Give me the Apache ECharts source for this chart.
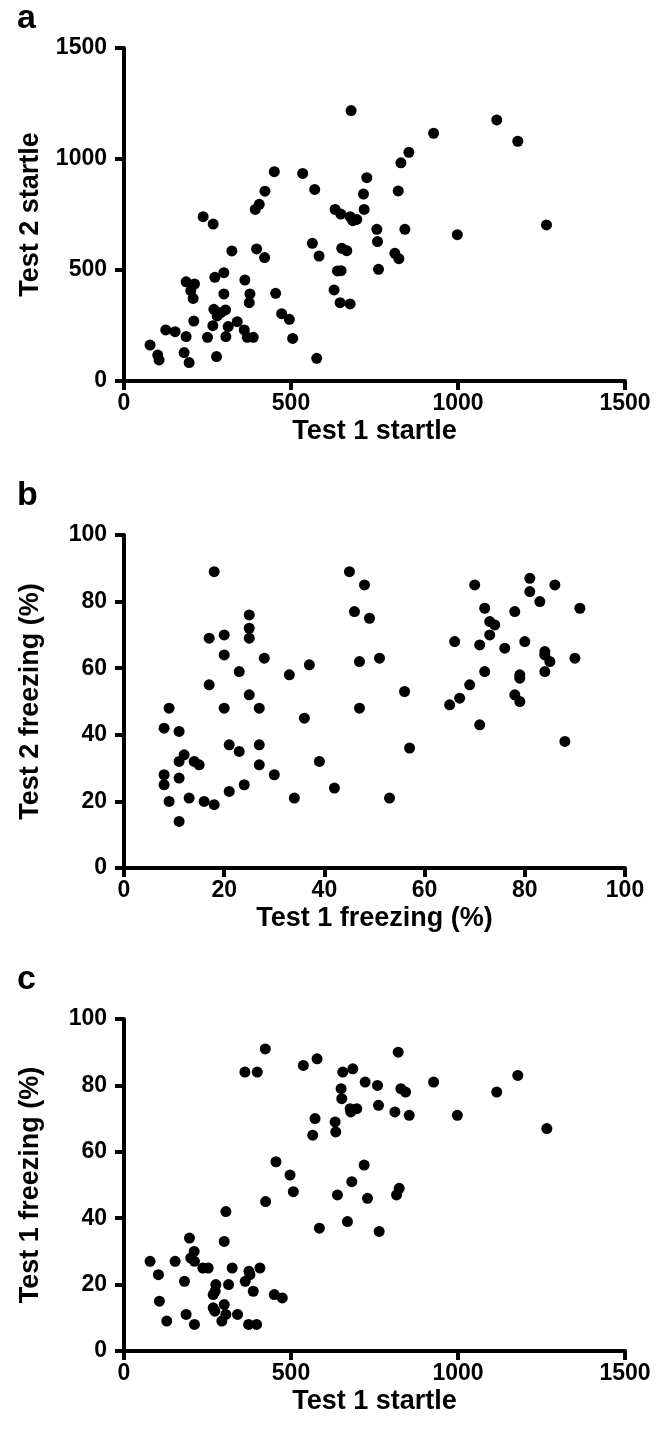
<!DOCTYPE html>
<html>
<head>
<meta charset="utf-8">
<style>
html,body{margin:0;padding:0;background:#fff;}
#chart{width:665px;height:1437px;}
</style>
<script src="https://cdn.jsdelivr.net/npm/echarts@6/dist/echarts.min.js"></script>
</head>
<body>
<div id="chart"></div>
<script>
// Panel a: Test 1 startle (x) vs Test 2 startle (y)
const aX = [78,101,105,125,153,186,180,195,237,267,186,211,200,207,209,250,277,266,269,279,290,304,312,305,272,299,299,323,339,360,369,387,375,377,362,393,405,422,450,397,421,454,472,495,505,535,571,577,564,584,629,647,677,639,650,652,667,632,649,680,677,685,697,719,717,727,757,759,762,811,823,841,821,829,853,927,998,1116,1179,1265];
const aY = [162,117,95,230,222,200,128,83,740,707,447,437,407,372,270,197,110,249,323,293,308,320,245,200,467,488,392,586,267,230,197,197,353,392,455,773,796,855,943,595,556,395,303,278,192,935,863,102,620,563,410,353,347,496,497,598,587,773,752,1218,740,722,728,773,842,916,683,628,503,575,551,683,856,983,1030,1116,659,1176,1080,703];
// Panel b: Test 1 freezing (x) vs Test 2 freezing (y)
const bX = [18,17,20,20,25,25,25,28,23,17,25,20,27,33,37,36,39,42,34,30,27,27,21,23,24,21,18,16,15,14,13,12,11,11,11,11,9,8,8,8,9,45,48,46,49,47,47,51,56,57,53,70,72,73,74,73,71,66,76,78,81,81,83,86,91,80,84,84,85,90,84,79,79,78,79,72,69,67,65,71,88];
const bY = [89,69,70,64,76,72,69,63,59,55,52,48,48,58,61,45,32,24,21,28,31,37,37,35,25,23,19,20,31,32,21,34,32,41,27,14,48,42,28,25,20,89,85,77,75,62,48,63,53,36,21,85,78,74,73,70,67,68,66,77,87,83,80,85,78,68,65,64,62,63,59,58,57,52,50,59,55,51,49,43,38];
// Panel c: Test 1 startle (x) vs Test 1 freezing (y)
const cX = [78,103,106,128,153,181,186,211,196,210,200,211,236,252,275,267,273,267,272,293,300,305,313,324,300,305,340,363,374,377,387,407,373,397,450,474,424,455,497,507,362,399,423,537,578,572,565,585,632,634,639,669,682,719,729,764,655,685,650,652,677,679,697,722,759,762,821,829,843,811,854,824,816,927,998,1116,1179,1266];
const cY = [27,23,15,9,27,21,11,8,34,30,28,27,25,25,20,17,18,13,12,9,14,11,20,25,33,42,11,21,24,23,18,25,8,8,17,16,45,57,53,48,84,84,91,86,88,70,65,37,69,66,47,39,51,56,46,36,84,85,79,76,73,72,73,81,80,74,90,79,78,72,71,49,47,81,71,78,83,67];

const startleTicks = ['0', '500', '1000', '1500'];
const freezeTicks = ['0', '20', '40', '60', '80', '100'];

const FONT = '"Liberation Sans", Arial, Helvetica, sans-serif';
const TICK_FS = 23;
const TITLE_FS = 27;

function pairs(xs, ys){ return xs.map((x,i)=>[x, ys[i]]); }

function mkAxis(gridIndex, max, interval, labels, name, isY){
  return {
    type: 'value', gridIndex, min: 0, max, interval,
    name, nameLocation: 'middle', nameGap: isY ? 80 : 37,
    nameMoveOverlap: false,
    nameTextStyle: {fontFamily: FONT, fontWeight: 'bold', fontSize: TITLE_FS, color: '#000'},
    axisLine: {show: true, onZero: false, lineStyle: {color: '#000', width: 4}},
    axisTick: {show: true, length: 9, lineStyle: {color: '#000', width: 4}},
    axisLabel: {
      fontFamily: FONT, fontWeight: 'bold', fontSize: TICK_FS, color: '#000', margin: isY ? 17 : 11,
      formatter: v => labels[Math.round(v / interval)]
    },
    splitLine: {show: false}
  };
}

const grids = [
  {left: 124, right: 40, top: 48, height: 333, outerBoundsMode: 'none', containLabel: false},
  {left: 124, right: 40, top: 535, height: 333, outerBoundsMode: 'none', containLabel: false},
  {left: 124, right: 40, top: 1019, height: 332, outerBoundsMode: 'none', containLabel: false}
];

const dot = {symbolSize: 11, itemStyle: {color: '#000', opacity: 1}};

const option = {
  animation: false,
  backgroundColor: '#fff',
  grid: grids,
  xAxis: [
    mkAxis(0, 1500, 500, startleTicks, 'Test 1 startle', false),
    mkAxis(1, 100, 20, freezeTicks, 'Test 1 freezing (%)', false),
    mkAxis(2, 1500, 500, startleTicks, 'Test 1 startle', false)
  ],
  yAxis: [
    mkAxis(0, 1500, 500, startleTicks, 'Test 2 startle', true),
    mkAxis(1, 100, 20, freezeTicks, 'Test 2 freezing (%)', true),
    mkAxis(2, 100, 20, freezeTicks, 'Test 1 freezing (%)', true)
  ],
  series: [
    Object.assign({type: 'scatter', xAxisIndex: 0, yAxisIndex: 0, data: pairs(aX, aY)}, dot),
    Object.assign({type: 'scatter', xAxisIndex: 1, yAxisIndex: 1, data: pairs(bX, bY)}, dot),
    Object.assign({type: 'scatter', xAxisIndex: 2, yAxisIndex: 2, data: pairs(cX, cY)}, dot)
  ],
  graphic: [
    {type: 'text', left: 17, top: 2, style: {text: 'a', font: 'bold 34px ' + FONT, fill: '#000'}},
    {type: 'text', left: 17, top: 479, style: {text: 'b', font: 'bold 34px ' + FONT, fill: '#000'}},
    {type: 'text', left: 17, top: 963, style: {text: 'c', font: 'bold 34px ' + FONT, fill: '#000'}}
  ]
};

const chart = echarts.init(document.getElementById('chart'), null, {renderer: 'canvas'});
chart.setOption(option);
</script>
</body>
</html>
